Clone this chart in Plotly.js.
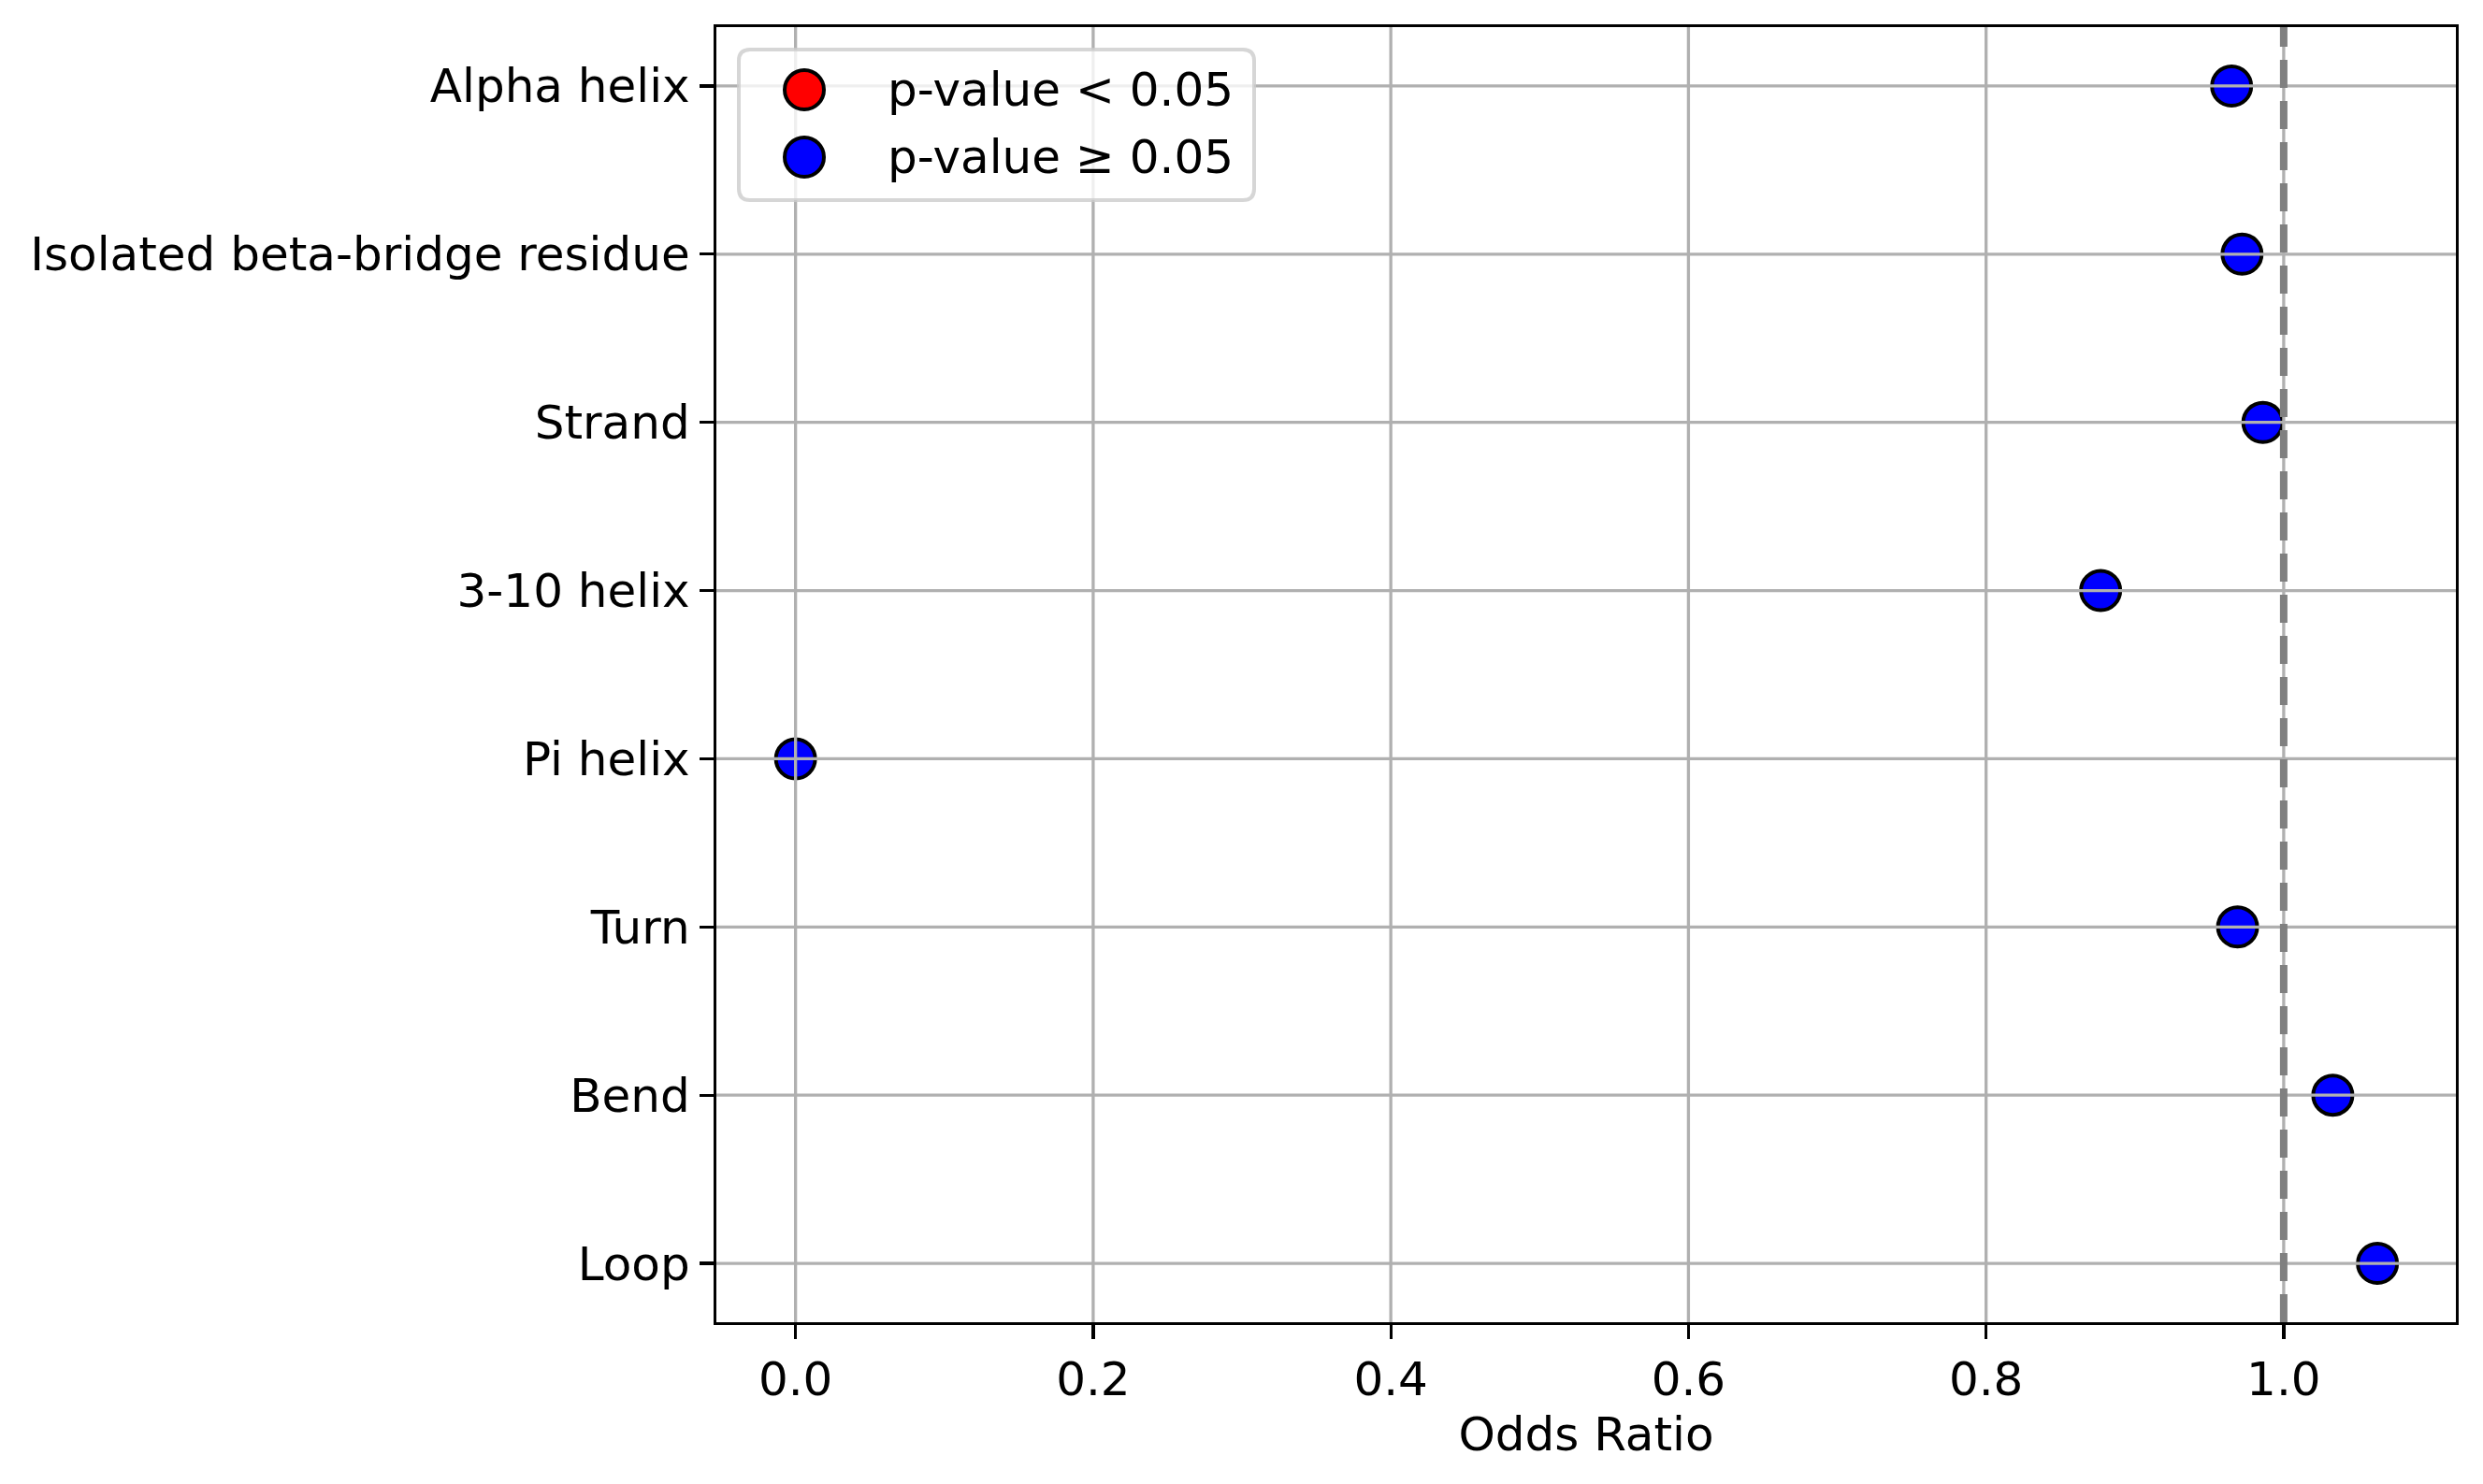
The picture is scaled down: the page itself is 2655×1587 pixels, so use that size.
<!DOCTYPE html>
<html>
<head>
<meta charset="utf-8">
<script src="https://cdn.plot.ly/plotly-3.0.1.min.js"></script>
<style>
  html, body { margin: 0; padding: 0; background: #fff; }
  #chart { width: 2655px; height: 1587px; }
</style>
</head>
<body>
<div id="chart"></div>
<script>
// ---- data ----
const categories = [
  "Alpha helix",
  "Isolated beta-bridge residue",
  "Strand",
  "3-10 helix",
  "Pi helix",
  "Turn",
  "Bend",
  "Loop"
];
const oddsRatio = [0.965, 0.972, 0.986, 0.877, 0.0, 0.969, 1.033, 1.063];
// none of the categories reached p < 0.05 in the figure
const significant = [false, false, false, false, false, false, false, false];
const legendLabels = ["p-value < 0.05", "p-value \u2265 0.05"];
const legendColors = ["red", "blue"];
const xTicks = [0.0, 0.2, 0.4, 0.6, 0.8, 1.0];
const refLine = 1.0;

(() => {
  "use strict";

  const W = 2655, H = 1587;
  const M = { l: 766, r: 29, t: 29, b: 173 };
  const PW = W - M.l - M.r;
  const PH = H - M.t - M.b;
  const FONT = "DejaVu Sans, Liberation Sans, sans-serif";
  const GRID = "#b0b0b0";

  // pixel -> paper helpers (used for the hand-built legend only)
  const px = (X) => (X - M.l) / PW;
  const py = (Y) => (H - M.b - Y) / PH;

  function pick(flag) {
    const x = [], y = [];
    categories.forEach((c, i) => {
      if (significant[i] === flag) { x.push(oddsRatio[i]); y.push(c); }
    });
    return { x, y };
  }

  const groups = [pick(true), pick(false)];
  const traces = groups.map((g, k) => ({
    type: "scatter",
    mode: "markers",
    name: legendLabels[k],
    x: g.x,
    y: g.y,
    showlegend: false,
    marker: { size: 42, color: legendColors[k], line: { color: "black", width: 4 } },
    hoverinfo: "x+y"
  }));

  // grid drawn above markers, as in the reference
  const shapes = [];
  for (const t of xTicks) {
    shapes.push({
      type: "line", layer: "above", xref: "x", yref: "paper",
      x0: t, x1: t, y0: 0, y1: 1,
      line: { color: GRID, width: 3.3 }
    });
  }
  for (const c of categories) {
    shapes.push({
      type: "line", layer: "above", xref: "paper", yref: "y",
      x0: 0, x1: 1, y0: c, y1: c,
      line: { color: GRID, width: 3.3 }
    });
  }
  shapes.push({
    type: "line", layer: "above", xref: "x", yref: "paper",
    x0: refLine, x1: refLine, y0: 0, y1: 1,
    line: { color: "#808080", width: 8, dash: "30px,14px" }
  });

  // legend box (rounded)
  const bx0 = px(790), bx1 = px(1341), by1 = py(53), by0 = py(214);
  const rx = 12 / PW, ry = 12 / PH;
  shapes.push({
    type: "path", layer: "above", xref: "paper", yref: "paper",
    path: `M${bx0 + rx},${by1} L${bx1 - rx},${by1} Q${bx1},${by1} ${bx1},${by1 - ry}` +
          ` L${bx1},${by0 + ry} Q${bx1},${by0} ${bx1 - rx},${by0}` +
          ` L${bx0 + rx},${by0} Q${bx0},${by0} ${bx0},${by0 + ry}` +
          ` L${bx0},${by1 - ry} Q${bx0},${by1} ${bx0 + rx},${by1} Z`,
    fillcolor: "rgba(255,255,255,0.8)",
    line: { color: "rgba(204,204,204,0.8)", width: 4 }
  });

  const rowsY = [96, 168];
  const annotations = [];
  legendLabels.forEach((lab, k) => {
    shapes.push({
      type: "circle", layer: "above", xref: "paper", yref: "paper",
      xsizemode: "pixel", ysizemode: "pixel",
      xanchor: px(860), yanchor: py(rowsY[k]),
      x0: -21, x1: 21, y0: -21, y1: 21,
      fillcolor: legendColors[k],
      line: { color: "black", width: 4 }
    });
    annotations.push({
      xref: "paper", yref: "paper",
      x: px(947), y: py(rowsY[k]),
      xanchor: "left", yanchor: "middle",
      showarrow: false,
      text: lab.replace(/</g, "&lt;"),
      font: { family: FONT, size: 50, color: "black" }
    });
  });

  const layout = {
    width: W,
    height: H,
    margin: { l: M.l, r: M.r, t: M.t, b: M.b, pad: 0, autoexpand: false },
    paper_bgcolor: "white",
    plot_bgcolor: "white",
    font: { family: FONT, size: 50, color: "black" },
    showlegend: false,
    xaxis: {
      range: [-0.0532, 1.1157],
      tickvals: xTicks,
      tickformat: ".1f",
      showgrid: false,
      zeroline: false,
      showline: true,
      mirror: true,
      linecolor: "black",
      linewidth: 3.3,
      ticks: "outside",
      ticklen: 15,
      tickwidth: 3.3,
      tickcolor: "black",
      tickfont: { family: FONT, size: 50, color: "black" },
      title: { text: "Odds Ratio", font: { family: FONT, size: 50, color: "black" }, standoff: 13 },
      automargin: false
    },
    yaxis: {
      type: "category",
      categoryorder: "array",
      categoryarray: categories,
      range: [7.35, -0.35],
      showgrid: false,
      zeroline: false,
      showline: true,
      mirror: true,
      linecolor: "black",
      linewidth: 3.3,
      ticks: "outside",
      ticklen: 15,
      tickwidth: 3.3,
      tickcolor: "black",
      ticklabelstandoff: 0,
      tickfont: { family: FONT, size: 50, color: "black" },
      automargin: false
    },
    shapes,
    annotations
  };

  Plotly.newPlot("chart", traces, layout, { staticPlot: true, displayModeBar: false });
})();
</script>
</body>
</html>
